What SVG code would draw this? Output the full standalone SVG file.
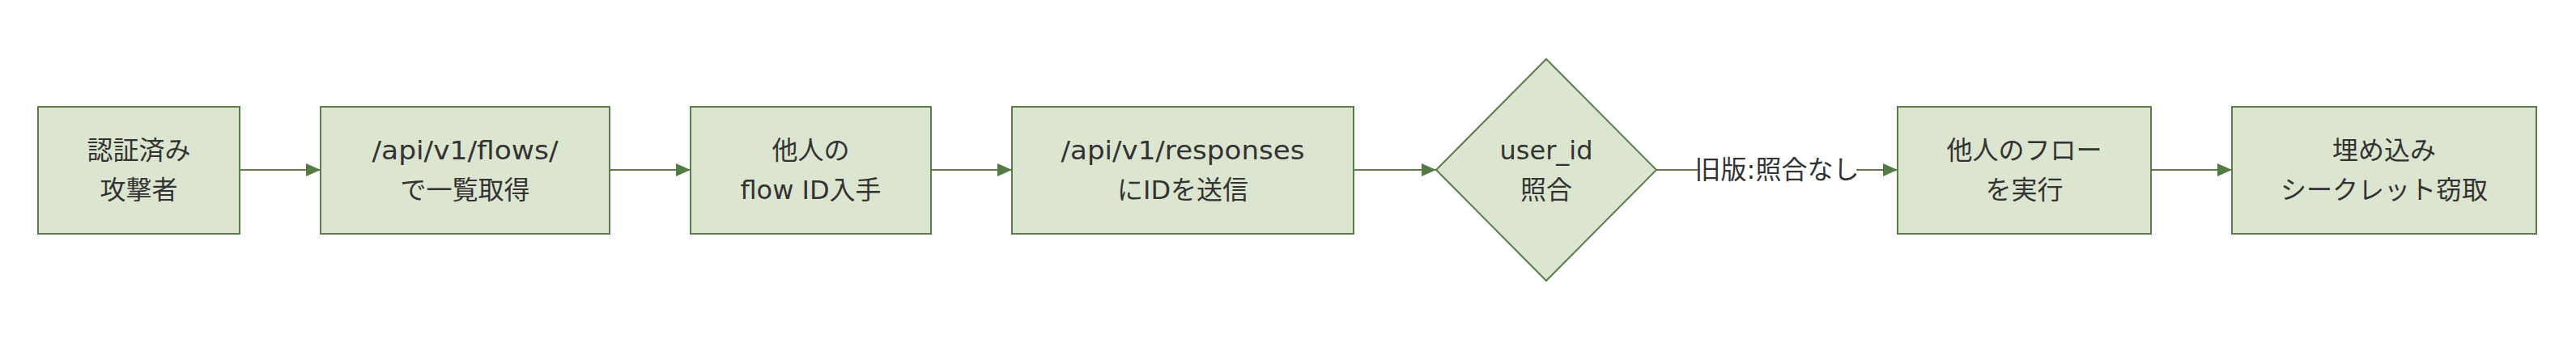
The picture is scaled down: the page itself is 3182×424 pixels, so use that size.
<svg xmlns="http://www.w3.org/2000/svg" width="3182" height="424" viewBox="0 0 3182 424">
<style>
.node rect, .node polygon { fill: #dce5cf; stroke: #5a7d4a; stroke-width: 2; }
.node text, .lbl text { font-family: "DejaVu Sans", "Noto Sans CJK JP", sans-serif; font-size: 32px; fill: #333333; text-anchor: middle; dominant-baseline: central; }
.cjk { font-family: "Noto Sans CJK JP", sans-serif; }
.edge { stroke: #5a7d4a; stroke-width: 2; fill: none; marker-end: url(#arr); }
</style>
<defs>
<marker id="arr" markerUnits="userSpaceOnUse" markerWidth="20" markerHeight="18" refX="18" refY="9" orient="auto">
<path d="M0,1 L18,9 L0,17 Z" fill="#557a45"/>
</marker>
</defs>
<rect width="3182" height="424" fill="#ffffff"/>
<g id="connectors">
<line class="edge" x1="296" y1="210" x2="396" y2="210"/>
<line class="edge" x1="753" y1="210" x2="853" y2="210"/>
<line class="edge" x1="1150" y1="210" x2="1250" y2="210"/>
<line class="edge" x1="1672" y1="210" x2="1774" y2="210"/>
<line class="edge" x1="2046" y1="210" x2="2344" y2="210"/>
<line class="edge" x1="2657" y1="210" x2="2757" y2="210"/>
<g class="lbl" id="label-e5">
<rect x="2097" y="190" width="196" height="40" fill="#ffffff"/>
<text class="cjk" x="2195" y="210">旧版:照合なし</text>
</g>
</g>
<g id="n1" class="node">
<rect x="47" y="132" width="249" height="157"/>
<text x="171.5" y="186">認証済み</text>
<text x="171.5" y="235">攻撃者</text>
</g>
<g id="n2" class="node">
<rect x="396" y="132" width="357" height="157"/>
<text x="574.5" y="186" textLength="230" lengthAdjust="spacingAndGlyphs">/api/v1/flows/</text>
<text x="574.5" y="235">で一覧取得</text>
</g>
<g id="n3" class="node">
<rect x="853" y="132" width="297" height="157"/>
<text x="1001.5" y="186">他人の</text>
<text x="1001.5" y="235">flow ID入手</text>
</g>
<g id="n4" class="node">
<rect x="1250" y="132" width="422" height="157"/>
<text x="1461" y="186" textLength="301" lengthAdjust="spacingAndGlyphs">/api/v1/responses</text>
<text x="1461" y="235">にIDを送信</text>
</g>
<g id="n5" class="node">
<polygon points="1910,73 2046,210 1910,347 1774,210"/>
<text x="1910" y="186">user_id</text>
<text x="1910" y="235">照合</text>
</g>
<g id="n6" class="node">
<rect x="2344" y="132" width="313" height="157"/>
<text x="2500.5" y="186">他人のフロー</text>
<text x="2500.5" y="235">を実行</text>
</g>
<g id="n7" class="node">
<rect x="2757" y="132" width="376" height="157"/>
<text x="2945" y="186">埋め込み</text>
<text x="2945" y="235">シークレット窃取</text>
</g>
</svg>
